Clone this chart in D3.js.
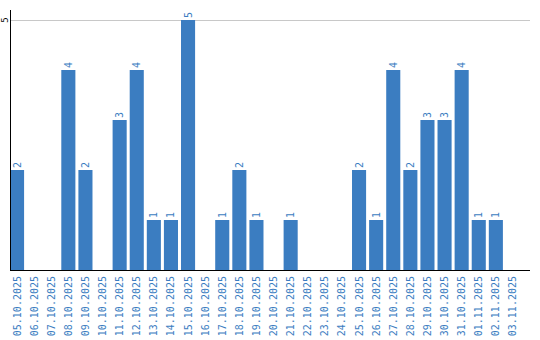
<!DOCTYPE html>
<html>
<head>
<meta charset="utf-8">
<script src="https://cdn.jsdelivr.net/npm/d3@7"></script>
<style>
  body { margin: 0; background: #fff; }
  text { font-family: "DejaVu Sans Mono", monospace; }
</style>
</head>
<body>
<div id="vis"></div>
<script>
// Data ----------------------------------------------------------------------

var dates = ["05.10.2025", "06.10.2025", "07.10.2025", "08.10.2025", "09.10.2025",
  "10.10.2025", "11.10.2025", "12.10.2025", "13.10.2025", "14.10.2025",
  "15.10.2025", "16.10.2025", "17.10.2025", "18.10.2025", "19.10.2025",
  "20.10.2025", "21.10.2025", "22.10.2025", "23.10.2025", "24.10.2025",
  "25.10.2025", "26.10.2025", "27.10.2025", "28.10.2025", "29.10.2025",
  "30.10.2025", "31.10.2025", "01.11.2025", "02.11.2025", "03.11.2025"];

var counts = [2, 0, 0, 4, 2, 0, 3, 4, 1, 1, 5, 0, 1, 2, 1, 0, 1, 0, 0, 0,
  2, 1, 4, 2, 3, 3, 4, 1, 1, 0];

var yTicks = [5];

// Setup ---------------------------------------------------------------------

var width = 540, height = 340;
var plotLeft = 10, bandRight = 520, axisRight = 530, plotTop = 20, plotBottom = 270;
var barColor = "#3b7dc1";

var svg = d3.select("#vis").append("svg")
  .attr("width", width)
  .attr("height", height);

var x = d3.scaleBand()
  .domain(dates)
  .range([plotLeft, bandRight])
  .paddingInner(3 / 17)
  .paddingOuter(0)
  .align(0);

var y = d3.scaleLinear()
  .domain([0, 5])
  .range([plotBottom, plotTop]);

// Grid ----------------------------------------------------------------------

svg.selectAll(".grid")
  .data(yTicks)
  .enter().append("line")
  .attr("x1", plotLeft)
  .attr("x2", axisRight)
  .attr("y1", function(d) { return y(d) + 0.5; })
  .attr("y2", function(d) { return y(d) + 0.5; })
  .attr("stroke", "#c8c8c8")
  .attr("stroke-width", 1);

// Bars ----------------------------------------------------------------------

var data = dates.map(function(d, i) { return {date: d, n: counts[i]}; });

svg.selectAll(".bar")
  .data(data.filter(function(d) { return d.n > 0; }))
  .enter().append("rect")
  .attr("class", "bar")
  .attr("x", function(d) { return x(d.date); })
  .attr("width", x.bandwidth())
  .attr("y", function(d) { return y(d.n); })
  .attr("height", function(d) { return y(0) - y(d.n); })
  .attr("fill", barColor);

svg.selectAll(".val")
  .data(data.filter(function(d) { return d.n > 0; }))
  .enter().append("text")
  .attr("class", "val")
  .attr("transform", function(d) {
    return "translate(" + (x(d.date) + x.bandwidth() / 2) + "," + (y(d.n) - 2) + ") rotate(-90)";
  })
  .attr("dy", "0.35em")
  .attr("text-anchor", "start")
  .attr("fill", barColor)
  .style("font-size", "10px")
  .text(function(d) { return d.n; });

// Axes ----------------------------------------------------------------------

svg.append("line")
  .attr("x1", plotLeft + 0.5).attr("x2", plotLeft + 0.5)
  .attr("y1", 10).attr("y2", plotBottom)
  .attr("stroke", "#000");

svg.append("line")
  .attr("x1", plotLeft).attr("x2", axisRight)
  .attr("y1", plotBottom + 0.5).attr("y2", plotBottom + 0.5)
  .attr("stroke", "#000");

svg.selectAll(".ytick")
  .data(yTicks)
  .enter().append("text")
  .attr("class", "ytick")
  .attr("transform", function(d) { return "translate(5," + y(d) + ") rotate(-90)"; })
  .attr("dy", "0.35em")
  .attr("text-anchor", "middle")
  .attr("fill", "#000")
  .style("font-size", "9px")
  .text(function(d) { return d; });

svg.selectAll(".xtick")
  .data(dates)
  .enter().append("text")
  .attr("class", "xtick")
  .attr("transform", function(d) {
    return "translate(" + (x(d) + x.bandwidth() / 2) + "," + (plotBottom + 6) + ") rotate(-90)";
  })
  .attr("dy", "0.35em")
  .attr("text-anchor", "end")
  .attr("fill", barColor)
  .style("font-size", "10px")
  .text(function(d) { return d; });
</script>
</body>
</html>
